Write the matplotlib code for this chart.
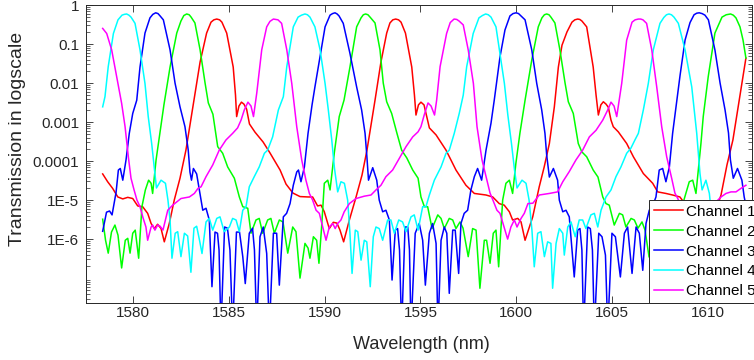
import numpy as np
import matplotlib
matplotlib.use("Agg")
import matplotlib.pyplot as plt
from matplotlib.ticker import FixedLocator, FixedFormatter, LogLocator, NullFormatter

# (wavelength nm, log10 transmission)
ch1_pts = [(1578.40,-4.33),(1578.66,-4.53),(1578.92,-4.70),(1579.19,-4.92),(1579.45,-4.97),(1579.71,-4.93),
    (1579.97,-4.96),(1580.23,-5.15),(1580.49,-5.17),(1580.75,-5.34),(1580.93,-5.60),(1581.10,-5.73),(1581.27,-5.62),
    (1581.45,-5.73),(1581.62,-6.07),(1581.88,-5.60),(1582.14,-5.00),(1582.44,-4.44),(1582.75,-3.72),(1582.96,-3.08),
    (1583.17,-2.44),(1583.49,-1.46),(1583.83,-0.72),(1584.06,-0.44),(1584.21,-0.38),(1584.36,-0.36),(1584.51,-0.38),
    (1584.63,-0.44),(1584.88,-0.72),
    (1585.22,-1.59),(1585.34,-2.31),(1585.40,-2.86),(1585.52,-2.59),(1585.65,-2.49),(1585.78,-2.54),(1585.92,-2.67),
    (1586.07,-3.05),(1586.36,-3.26),(1586.78,-3.51),(1587.14,-3.79),(1587.67,-4.23),(1587.98,-4.59),(1588.34,-4.82),
    (1588.71,-4.91),(1589.13,-4.92),(1589.37,-4.92),(1589.63,-5.15),(1589.81,-5.13),(1589.98,-5.30),(1590.24,-5.73),
    (1590.45,-5.57),(1590.64,-5.59),(1590.80,-5.77),(1590.99,-6.07),(1591.29,-5.51),(1591.64,-4.92),(1591.95,-4.36),
    (1592.21,-3.72),(1592.42,-3.08),(1592.63,-2.44),(1592.94,-1.46),(1593.24,-0.72),(1593.41,-0.46),(1593.56,-0.38),
    (1593.71,-0.36),(1593.86,-0.38),
    (1593.99,-0.44),(1594.22,-0.72),(1594.55,-1.59),(1594.69,-2.31),(1594.77,-2.82),(1594.90,-2.56),(1595.03,-2.49),
    (1595.19,-2.56),(1595.29,-2.77),(1595.47,-3.15),(1595.82,-3.33),(1596.34,-3.72),(1596.86,-4.23),(1597.38,-4.62),
    (1597.82,-4.83),(1598.43,-4.87),(1598.78,-4.92),(1599.12,-5.09),(1599.38,-5.13),(1599.65,-5.30),(1599.82,-5.51),
    (1600.09,-5.47),(1600.26,-5.56),(1600.47,-6.03),(1600.87,-5.43),(1601.21,-4.66),(1601.47,-4.15),(1601.74,-3.55),
    (1602.00,-2.61),(1602.21,-1.59),(1602.40,-1.03),(1602.66,-0.69),(1602.92,-0.44),(1603.07,-0.38),(1603.22,-0.36),
    (1603.33,-0.37),(1603.44,-0.41),
    (1603.69,-0.56),(1604.03,-1.59),(1604.18,-2.31),(1604.30,-2.82),(1604.43,-2.56),(1604.56,-2.48),(1604.70,-2.54),
    (1604.82,-2.62),(1604.96,-2.95),(1605.08,-3.12),(1605.34,-3.25),(1605.78,-3.55),(1606.13,-3.89),(1606.65,-4.32),
    (1607.14,-4.57),(1607.40,-4.79),(1607.83,-4.83),(1608.18,-4.87),(1608.56,-4.92),(1608.88,-5.13),(1609.14,-5.31),
    (1609.35,-5.51),(1609.61,-5.46),(1609.77,-5.56),(1609.98,-6.03),(1610.34,-5.41),(1610.71,-4.87),(1611.02,-4.10),
    (1611.33,-3.46),(1611.66,-2.44),(1612.01,-1.36)]

ch2_pts = [(1578.40,-5.49),(1578.55,-6.03),(1578.69,-6.36),(1578.86,-5.82),(1579.04,-5.64),(1579.20,-5.90),
    (1579.39,-6.74),(1579.58,-6.03),(1579.71,-5.98),(1579.83,-6.36),(1579.97,-5.85),(1580.10,-5.77),(1580.28,-6.49),
    (1580.45,-5.17),(1580.63,-4.74),(1580.80,-4.49),(1580.93,-4.57),(1581.01,-4.83),(1581.19,-3.97),(1581.39,-3.28),
    (1581.60,-2.56),(1581.92,-1.59),(1582.27,-0.72),(1582.49,-0.41),(1582.64,-0.27),(1582.79,-0.23),(1582.92,-0.25),
    (1583.02,-0.31),(1583.22,-0.46),
    (1583.49,-1.15),(1583.75,-2.00),(1583.92,-2.51),(1584.16,-2.80),(1584.41,-3.63),(1584.67,-3.80),(1584.93,-4.15),
    (1585.28,-4.44),(1585.54,-4.92),(1585.72,-5.17),(1585.98,-5.21),(1586.15,-5.85),(1586.41,-5.51),(1586.58,-5.47),
    (1586.76,-5.85),(1587.02,-5.51),(1587.19,-5.47),(1587.37,-5.85),(1587.63,-5.51),(1587.82,-5.56),(1588.07,-6.36),
    (1588.33,-5.69),(1588.50,-5.81),(1588.71,-7.00),(1588.97,-6.11),(1589.13,-6.23),(1589.23,-6.49),(1589.41,-5.94),
    (1589.58,-6.03),(1589.70,-6.62),(1589.84,-5.69),(1589.98,-4.57),(1590.16,-4.49),(1590.28,-4.74),(1590.50,-3.80),
    (1590.76,-2.86),(1591.01,-2.44),(1591.32,-1.59),(1591.67,-0.56),(1591.90,-0.33),(1592.02,-0.25),(1592.14,-0.23),
    (1592.26,-0.25),(1592.37,-0.31),
    (1592.63,-0.46),(1592.89,-1.15),(1593.06,-2.00),(1593.24,-2.48),(1593.50,-2.78),(1593.76,-3.26),(1594.02,-3.72),
    (1594.29,-3.92),(1594.60,-4.23),(1594.88,-4.44),(1595.03,-4.92),(1595.21,-5.17),(1595.38,-5.17),(1595.61,-5.73),
    (1595.91,-5.38),(1596.08,-5.47),(1596.25,-5.73),(1596.51,-5.47),(1596.69,-5.51),(1596.86,-5.73),(1597.07,-5.56),
    (1597.23,-5.72),(1597.50,-6.45),(1597.73,-5.73),(1597.91,-5.77),(1598.11,-7.26),(1598.34,-6.03),(1598.46,-6.03),
    (1598.64,-6.62),(1598.81,-5.85),(1598.95,-5.77),(1599.09,-6.71),(1599.30,-5.00),(1599.47,-4.57),(1599.65,-4.49),
    (1599.82,-4.83),(1599.99,-4.06),(1600.20,-3.29),(1600.47,-2.44),(1600.82,-1.41),(1601.16,-0.56),(1601.35,-0.33),
    (1601.48,-0.25),(1601.60,-0.23),(1601.72,-0.25),
    (1601.82,-0.31),(1602.03,-0.46),(1602.29,-1.15),(1602.56,-2.00),(1602.73,-2.48),(1602.99,-2.78),
    (1603.25,-3.55),(1603.43,-3.76),(1603.69,-3.89),(1604.03,-4.23),(1604.28,-4.41),(1604.53,-4.92),(1604.70,-5.09),
    (1604.87,-5.13),(1605.13,-5.64),(1605.40,-5.34),(1605.57,-5.38),(1605.74,-5.69),(1606.01,-5.47),(1606.18,-5.51),
    (1606.37,-5.72),(1606.58,-5.56),(1606.74,-5.77),(1606.95,-6.46),(1607.21,-5.72),(1607.36,-5.77),(1607.57,-7.26),
    (1607.78,-6.03),(1607.94,-6.03),(1608.10,-6.62),(1608.25,-5.85),(1608.41,-5.77),(1608.57,-6.72),(1608.77,-5.00),
    (1609.05,-4.53),(1609.23,-4.49),(1609.40,-4.83),(1609.66,-3.55),(1609.78,-2.86),(1610.04,-1.84),(1610.39,-0.72),
    (1610.76,-0.31),(1610.98,-0.25),(1611.21,-0.23),(1611.35,-0.26),(1611.49,-0.33),(1611.70,-0.56),(1611.86,-0.90),
    (1612.01,-1.36)]

ch3_pts = [(1578.40,-5.80),(1578.60,-5.31),(1578.76,-5.28),(1578.89,-5.38),(1579.10,-4.80),(1579.22,-4.23),
    (1579.32,-4.19),(1579.45,-4.49),(1579.62,-3.97),(1579.79,-3.29),(1579.97,-2.78),(1580.18,-2.44),(1580.35,-1.59),
    (1580.61,-0.72),(1580.87,-0.33),(1581.02,-0.24),(1581.17,-0.20),(1581.29,-0.22),(1581.40,-0.28),(1581.57,-0.38),
    (1581.92,-1.15),(1582.18,-2.00),
    (1582.44,-2.61),(1582.70,-3.12),(1582.87,-3.72),(1582.96,-4.28),(1583.04,-4.49),(1583.14,-4.19),(1583.31,-4.33),
    (1583.45,-4.74),(1583.63,-5.26),(1583.80,-5.21),(1583.97,-5.51),(1584.11,-7.22),(1584.27,-5.82),(1584.40,-5.85),
    (1584.48,-6.28),(1584.58,-8.33),(1584.77,-5.69),(1584.92,-5.72),(1585.05,-6.28),(1585.19,-8.33),(1585.39,-5.82),
    (1585.55,-5.82),(1585.72,-6.45),(1585.85,-7.14),(1586.06,-5.85),(1586.23,-5.72),(1586.33,-6.28),(1586.45,-8.33),
    (1586.62,-5.94),(1586.79,-5.69),(1586.97,-6.37),(1587.11,-8.33),(1587.32,-5.85),(1587.49,-5.85),(1587.63,-7.18),
    (1587.84,-5.43),(1588.01,-5.34),(1588.19,-5.09),(1588.36,-4.62),(1588.54,-4.28),(1588.63,-4.23),(1588.76,-4.53),
    (1588.94,-4.15),(1589.13,-3.29),(1589.34,-2.56),(1589.49,-2.10),(1589.67,-1.58),(1590.02,-0.56),(1590.28,-0.26),
    (1590.41,-0.22),(1590.54,-0.20),(1590.65,-0.23),
    (1590.75,-0.28),(1590.97,-0.47),(1591.32,-1.24),(1591.67,-2.10),(1591.93,-2.69),(1592.11,-3.29),
    (1592.20,-3.85),(1592.29,-4.49),(1592.51,-4.17),(1592.72,-4.49),(1592.85,-5.00),(1593.03,-5.30),(1593.20,-5.26),
    (1593.38,-5.51),(1593.52,-7.05),(1593.69,-5.77),(1593.81,-5.73),(1593.91,-6.28),(1594.02,-8.33),(1594.20,-5.69),
    (1594.34,-5.69),(1594.43,-6.28),(1594.51,-8.33),(1594.73,-5.85),(1594.94,-5.60),(1595.12,-6.03),(1595.26,-7.18),
    (1595.47,-5.85),(1595.64,-5.60),(1595.82,-6.11),(1595.92,-8.33),(1596.08,-6.03),(1596.25,-5.69),(1596.38,-5.85),
    (1596.51,-7.39),(1596.69,-5.77),(1596.82,-5.77),(1597.00,-6.88),(1597.12,-5.60),(1597.29,-5.34),(1597.47,-5.26),
    (1597.64,-4.74),(1597.82,-4.40),(1597.99,-4.19),(1598.20,-4.49),(1598.43,-3.72),(1598.69,-3.03),(1598.86,-2.44),
    (1599.16,-1.33),(1599.42,-0.64),(1599.68,-0.28),(1599.84,-0.22),(1600.00,-0.20),(1600.13,-0.22),(1600.26,-0.28),
    (1600.47,-0.38),(1600.82,-1.15),
    (1601.08,-2.01),(1601.34,-2.69),(1601.51,-3.29),(1601.60,-3.85),(1601.74,-4.41),(1601.95,-4.19),(1602.17,-4.49),
    (1602.26,-5.00),(1602.44,-5.30),(1602.61,-5.26),(1602.78,-5.43),(1603.04,-6.97),(1603.22,-5.77),(1603.34,-5.73),
    (1603.44,-6.28),(1603.53,-8.33),(1603.74,-5.69),(1603.88,-5.73),(1603.99,-6.28),(1604.09,-8.33),(1604.32,-5.85),
    (1604.49,-5.94),(1604.67,-6.41),(1604.79,-8.33),(1605.01,-5.85),(1605.19,-5.94),(1605.45,-6.97),(1605.66,-5.85),
    (1605.83,-5.69),(1606.06,-6.88),(1606.27,-5.69),(1606.44,-5.85),(1606.62,-6.80),(1606.79,-5.60),(1606.96,-5.26),
    (1607.15,-5.13),(1607.31,-4.92),(1607.48,-4.23),(1607.66,-4.19),(1607.83,-4.53),(1608.01,-4.15),(1608.18,-3.29),
    (1608.36,-2.61),(1608.57,-1.80),(1608.83,-0.90),(1609.09,-0.45),(1609.30,-0.25),(1609.44,-0.21),(1609.57,-0.20),
    (1609.72,-0.22),(1609.87,-0.26),
    (1610.05,-0.38),(1610.39,-1.15),(1610.66,-2.00),(1610.92,-2.69),(1611.10,-3.28),(1611.20,-3.97),(1611.35,-4.44),
    (1611.57,-4.19),(1611.80,-4.49),(1611.92,-4.92),(1612.01,-5.13)]

ch4_pts = [(1578.40,-2.61),(1578.52,-2.35),(1578.69,-1.58),(1578.96,-0.73),(1579.20,-0.38),(1579.41,-0.26),
    (1579.53,-0.24),(1579.65,-0.23),(1579.77,-0.26),
    (1579.88,-0.31),(1580.09,-0.47),(1580.35,-1.15),(1580.61,-2.01),(1580.78,-2.86),(1580.96,-3.55),
    (1581.11,-4.23),(1581.21,-4.69),(1581.45,-4.49),(1581.68,-4.57),(1581.81,-5.00),(1581.92,-5.51),(1582.02,-6.49),
    (1582.19,-5.85),(1582.32,-5.81),(1582.49,-6.45),(1582.67,-5.85),(1582.84,-5.92),(1583.01,-6.85),(1583.17,-5.72),
    (1583.31,-5.67),(1583.46,-6.03),(1583.59,-6.37),(1583.80,-5.56),(1583.97,-5.47),(1584.15,-5.77),(1584.36,-5.47),
    (1584.53,-5.43),(1584.75,-5.81),(1585.02,-5.69),(1585.19,-5.47),(1585.37,-5.51),(1585.54,-5.81),(1585.72,-5.26),
    (1585.89,-5.17),(1586.06,-4.66),(1586.32,-4.40),(1586.58,-4.15),(1586.85,-3.80),(1587.02,-3.72),(1587.28,-3.38),
    (1587.58,-2.69),(1587.84,-2.35),(1588.02,-1.58),(1588.36,-0.56),(1588.61,-0.31),(1588.79,-0.26),(1588.97,-0.23),
    (1589.10,-0.25),(1589.23,-0.31),
    (1589.49,-0.56),(1589.76,-1.15),(1590.02,-2.01),(1590.19,-2.69),(1590.37,-3.46),(1590.51,-4.18),(1590.68,-4.79),
    (1590.85,-4.53),(1591.03,-4.57),(1591.20,-5.00),(1591.32,-5.85),(1591.43,-6.88),(1591.60,-5.77),(1591.73,-5.81),
    (1591.90,-6.54),(1592.07,-6.03),(1592.20,-6.07),(1592.38,-7.22),(1592.54,-5.94),(1592.68,-5.69),(1592.85,-5.73),
    (1593.03,-6.03),(1593.29,-5.51),(1593.46,-5.51),(1593.64,-5.85),(1593.87,-5.51),(1594.07,-5.56),(1594.25,-5.81),
    (1594.51,-5.43),(1594.68,-5.38),(1594.88,-5.77),(1595.12,-5.17),(1595.29,-5.17),(1595.47,-4.87),(1595.73,-4.49),
    (1596.08,-4.15),(1596.34,-3.80),(1596.51,-3.72),(1596.77,-3.29),(1597.03,-2.78),(1597.24,-2.31),(1597.42,-1.58),
    (1597.76,-0.73),(1598.06,-0.33),(1598.24,-0.27),(1598.41,-0.23),(1598.55,-0.25),
    (1598.69,-0.31),(1598.95,-0.56),(1599.13,-1.15),(1599.39,-2.01),
    (1599.57,-2.82),(1599.76,-3.55),(1599.92,-4.23),(1600.05,-4.69),(1600.31,-4.49),(1600.52,-4.57),(1600.68,-5.00),
    (1600.83,-5.77),(1600.95,-6.71),(1601.13,-5.85),(1601.30,-5.81),(1601.48,-6.45),(1601.65,-6.07),(1601.82,-6.11),
    (1601.91,-7.26),(1602.09,-6.11),(1602.26,-5.73),(1602.44,-5.85),(1602.52,-6.41),(1602.70,-5.69),(1602.87,-5.56),
    (1603.09,-5.94),(1603.30,-5.51),(1603.48,-5.51),(1603.65,-5.73),(1603.91,-5.38),(1604.09,-5.34),(1604.27,-5.69),
    (1604.44,-5.26),(1604.70,-4.92),(1604.96,-4.74),(1605.22,-4.40),(1605.48,-4.15),(1605.78,-3.80),(1606.00,-3.67),
    (1606.21,-3.46),(1606.39,-3.29),(1606.65,-2.69),(1606.91,-2.01),(1607.17,-1.15),(1607.52,-0.47),(1607.72,-0.32),
    (1607.86,-0.25),(1607.99,-0.23),(1608.12,-0.25),
    (1608.25,-0.31),(1608.48,-0.47),(1608.83,-1.15),(1609.18,-2.10),(1609.44,-3.29),(1609.61,-4.32),(1609.72,-4.74),
    (1609.92,-4.49),(1610.10,-4.83),(1610.24,-5.51),(1610.34,-6.49),(1610.50,-5.85),(1610.66,-5.82),(1610.81,-6.45),
    (1610.97,-5.85),(1611.13,-5.92),(1611.28,-6.85),(1611.49,-5.72),(1611.65,-5.67),(1611.81,-6.03),(1612.01,-6.29)]

ch5_pts = [(1578.40,-0.60),(1578.61,-0.73),(1578.87,-1.15),(1579.13,-1.84),(1579.39,-2.52),(1579.57,-3.12),
    (1579.74,-3.89),(1579.88,-4.44),(1580.04,-4.74),(1580.19,-5.00),(1580.35,-5.17),(1580.50,-5.44),(1580.66,-5.69),
    (1580.75,-6.03),(1580.93,-5.69),(1581.01,-5.64),(1581.13,-5.77),(1581.27,-5.64),(1581.40,-5.67),(1581.55,-5.77),
    (1581.80,-5.26),(1582.06,-5.13),(1582.49,-4.96),(1582.93,-4.92),(1583.19,-4.83),(1583.38,-4.70),(1583.54,-4.66),
    (1583.80,-4.40),(1584.15,-4.10),(1584.49,-3.72),(1584.84,-3.46),(1585.19,-3.29),(1585.45,-3.15),(1585.63,-2.95),
    (1585.80,-2.69),(1585.99,-2.49),(1586.15,-2.59),(1586.28,-2.86),(1586.45,-2.26),(1586.71,-1.15),(1586.97,-0.56),
    (1587.14,-0.42),(1587.32,-0.36),(1587.56,-0.38),(1587.75,-0.47),(1588.02,-1.15),(1588.28,-2.01),(1588.54,-3.12),
    (1588.80,-3.97),
    (1589.02,-4.49),(1589.20,-4.83),(1589.37,-5.00),(1589.55,-5.26),(1589.72,-5.34),(1589.90,-5.69),(1590.07,-6.03),
    (1590.24,-5.69),(1590.42,-5.60),(1590.55,-5.73),(1590.68,-5.60),(1590.85,-5.51),(1591.02,-5.30),(1591.29,-5.09),
    (1591.64,-4.96),(1592.07,-4.90),(1592.42,-4.87),(1592.68,-4.74),(1592.94,-4.62),(1593.20,-4.40),(1593.55,-4.23),
    (1593.90,-3.93),(1594.25,-3.63),(1594.60,-3.38),(1594.88,-3.25),(1595.03,-3.12),(1595.20,-2.82),(1595.40,-2.51),
    (1595.56,-2.59),(1595.74,-2.82),(1595.85,-2.44),(1596.03,-1.58),(1596.37,-0.73),(1596.56,-0.45),(1596.76,-0.36),
    (1596.90,-0.37),(1597.02,-0.41),
    (1597.24,-0.51),(1597.50,-1.15),(1597.77,-2.01),(1597.96,-3.12),(1598.22,-3.97),(1598.48,-4.49),(1598.64,-4.82),
    (1598.79,-5.00),(1599.00,-5.26),(1599.16,-5.34),(1599.37,-5.69),(1599.56,-6.00),(1599.73,-5.69),(1599.91,-5.51),
    (1600.05,-5.69),(1600.26,-5.47),(1600.43,-5.34),(1600.62,-5.09),(1600.88,-5.08),(1601.21,-4.87),(1601.74,-4.83),
    (1602.17,-4.79),(1602.44,-4.53),(1602.78,-4.27),(1603.13,-3.97),(1603.48,-3.72),(1603.83,-3.38),(1604.18,-3.21),
    (1604.53,-2.95),(1604.79,-2.69),(1604.96,-2.49),(1605.12,-2.59),(1605.26,-2.86),(1605.52,-2.01),(1605.78,-0.90),
    (1606.06,-0.44),(1606.22,-0.38),(1606.39,-0.36),(1606.51,-0.36),(1606.63,-0.38),(1606.82,-0.47),(1607.09,-1.15),
    (1607.35,-2.10),(1607.61,-3.12),
    (1607.87,-3.89),(1608.13,-4.44),(1608.30,-4.82),(1608.49,-5.00),(1608.62,-5.26),(1608.77,-5.34),(1608.97,-5.69),
    (1609.14,-6.03),(1609.31,-5.69),(1609.49,-5.60),(1609.63,-5.73),(1609.75,-5.60),(1609.92,-5.51),(1610.10,-5.30),
    (1610.36,-5.09),(1610.71,-4.92),(1610.97,-4.83),(1611.23,-4.79),(1611.49,-4.79),(1611.75,-4.70),(1612.01,-4.62)]

labels = ['Channel 1', 'Channel 2', 'Channel 3', 'Channel 4', 'Channel 5']
colors = ['#ff0000', '#00ff00', '#0000ff', '#00ffff', '#ff00ff']
xticks = [1580, 1585, 1590, 1595, 1600, 1605, 1610]
yticks = [1e-6, 1e-5, 1e-4, 1e-3, 1e-2, 1e-1, 1]
ytick_labels = ['1E-6', '1E-5', '0.0001', '0.001', '0.01', '0.1', '1']

plt.rcParams['font.family'] = ['Liberation Sans', 'DejaVu Sans']
dark = '#262626'

fig = plt.figure(figsize=(7.54, 3.6), dpi=100)
ax = fig.add_axes([0.1141, 0.1583, 0.8833, 0.8278])

for pts, lab, col in zip([ch1_pts, ch2_pts, ch3_pts, ch4_pts, ch5_pts], labels, colors):
    arr = np.array(pts)
    ax.plot(arr[:, 0], 10 ** arr[:, 1], color=col, lw=1.1, label=lab)

ax.set_yscale('log')
ax.set_xlim(1577.53, 1612.33)
ax.set_ylim(2.3e-8, 1)
ax.set_xticks(xticks)
ax.yaxis.set_major_locator(FixedLocator(yticks))
ax.yaxis.set_major_formatter(FixedFormatter(ytick_labels))
ax.yaxis.set_minor_locator(LogLocator(base=10, subs=np.arange(2, 10), numticks=20))
ax.yaxis.set_minor_formatter(NullFormatter())

ax.tick_params(which='both', direction='in', top=True, right=True, colors=dark, labelsize=11)
ax.tick_params(which='major', length=5, width=0.6)
ax.tick_params(which='minor', length=3, width=0.5)
ax.tick_params(axis='y', pad=5)
ax.tick_params(axis='x', pad=2)
for s in ax.spines.values():
    s.set_color(dark)
    s.set_linewidth(0.7)

ax.set_xlabel('Wavelength (nm)', fontsize=13, color=dark)
ax.set_ylabel('Transmission in logscale', fontsize=14, color=dark)
ax.xaxis.set_label_coords(0.503, -0.11)
ax.yaxis.set_label_coords(-0.09, 0.55)

leg = ax.legend(loc='lower left', bbox_to_anchor=(0.8453, 0.0), borderaxespad=0,
                fancybox=False, framealpha=1, edgecolor=dark, fontsize=11,
                handlelength=1.9, handletextpad=0.25, labelspacing=0.39, borderpad=0.3)
leg.get_frame().set_linewidth(0.7)

fig.savefig('out.png', dpi=100)
